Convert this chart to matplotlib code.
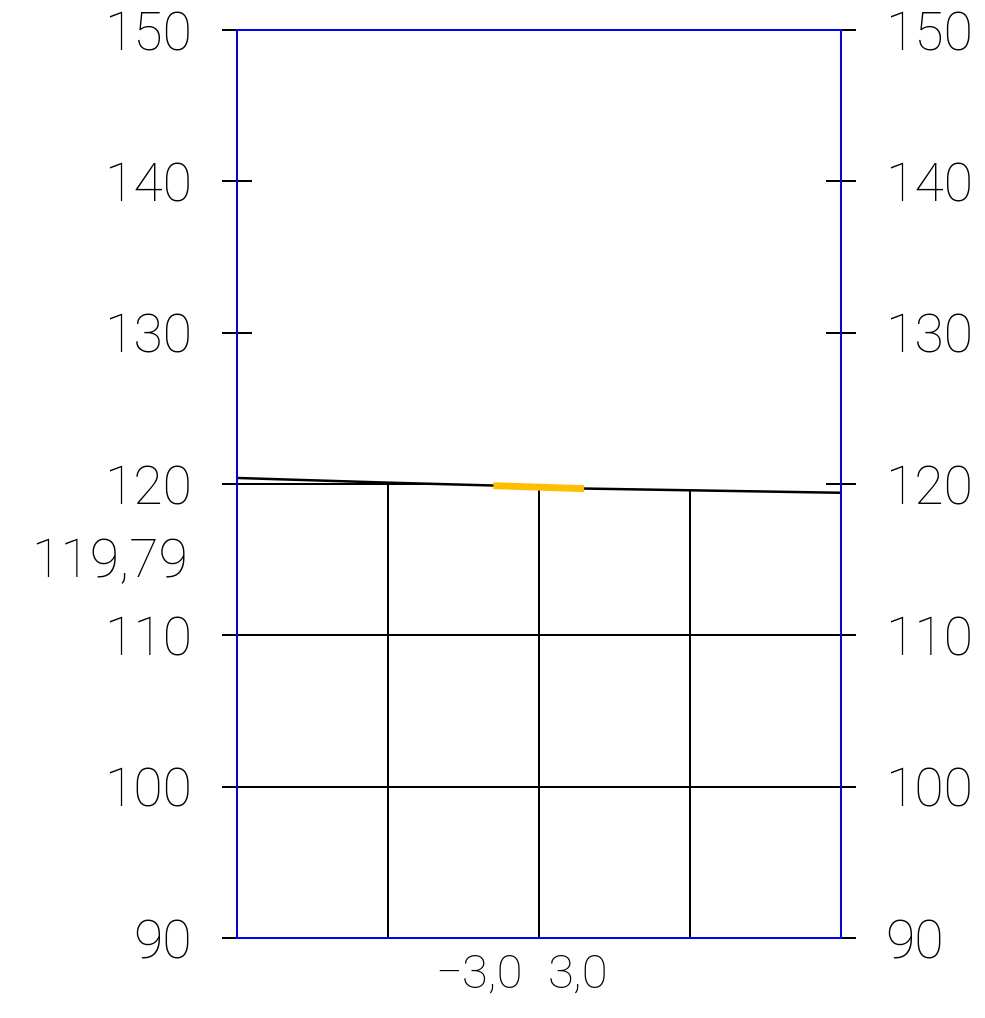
import matplotlib
matplotlib.use("Agg")
import matplotlib.pyplot as plt
import matplotlib.transforms as mtransforms
from matplotlib.patches import Polygon
import numpy as np

# ---- data ----
y_ticks = [90, 100, 110, 120, 130, 140, 150]
y_tick_labels = ["90", "100", "110", "120", "130", "140", "150"]
grid_x = [-10, 0, 10]
grid_y = [100, 110, 120]
terrain_x = [-20.0, -10.0, -3.0, 3.0, 20.0]
terrain_z = [120.40, 120.09, 119.90, 119.70, 119.42]
road_x = [-3.0, 3.0]
road_z = [119.89, 119.69]
elevation_label = "119,79"
elevation_label_y = 114.85
offset_labels = ["\u22123,0", "3,0"]

plt.rcParams['font.family'] = ['Roboto', 'DejaVu Sans']

W, H = 985, 1018
fig = plt.figure(figsize=(W / 100, H / 100), dpi=100)
ax = fig.add_axes([236.5 / W, 80 / H, 604.5 / W, 908 / H])
ax.set_xlim(-20, 20)
ax.set_ylim(90, 150)

lw = 1.44
# clip region below terrain
poly = Polygon(list(zip(terrain_x, terrain_z)) + [(20, 90), (-20, 90)],
               closed=True, facecolor='none', edgecolor='none')
ax.add_patch(poly)

for gy in grid_y:
    ln, = ax.plot([-20, 20], [gy, gy], color='black', lw=lw, zorder=2)
    ln.set_clip_path(poly)

for gx in grid_x:
    top = np.interp(gx, terrain_x, terrain_z)
    ax.plot([gx, gx], [90, top], color='black', lw=lw, zorder=2)

ax.plot(terrain_x, terrain_z, color='black', lw=1.8, zorder=3,
        solid_capstyle='butt')
ax.plot(road_x, road_z, color='#FFBF00', lw=5.0, zorder=4,
        solid_capstyle='butt')

for s in ax.spines.values():
    s.set_color('#0000FF')
    s.set_linewidth(lw)
    s.set_zorder(5)

ax.set_xticks([])
ax.set_yticks(y_ticks)
ax.set_yticklabels(y_tick_labels)
ax.tick_params(axis='y', which='both', left=True, right=True,
               labelleft=True, labelright=True, direction='inout',
               length=22.3, width=lw, color='black', pad=20.9,
               labelsize=38.5)
for lab in ax.get_yticklabels():
    lab.set_fontweight('light')
for lab in ax.yaxis.get_ticklabels(which='major'):
    lab.set_fontweight('light')

trans = mtransforms.blended_transform_factory(ax.transAxes, ax.transData)
ax.text(-0.0802, elevation_label_y, elevation_label, transform=trans,
        ha='right', va='center', fontsize=38.5, fontweight='light',
        clip_on=False)

ax.text((523 - 236.5) / 604.5, -37 / 908, offset_labels[0],
        transform=ax.transAxes, ha='right', va='center', fontsize=34,
        fontweight='light', clip_on=False)
ax.text((548 - 236.5) / 604.5, -37 / 908, offset_labels[1],
        transform=ax.transAxes, ha='left', va='center', fontsize=34,
        fontweight='light', clip_on=False)

fig.savefig("out.png", dpi=100)
